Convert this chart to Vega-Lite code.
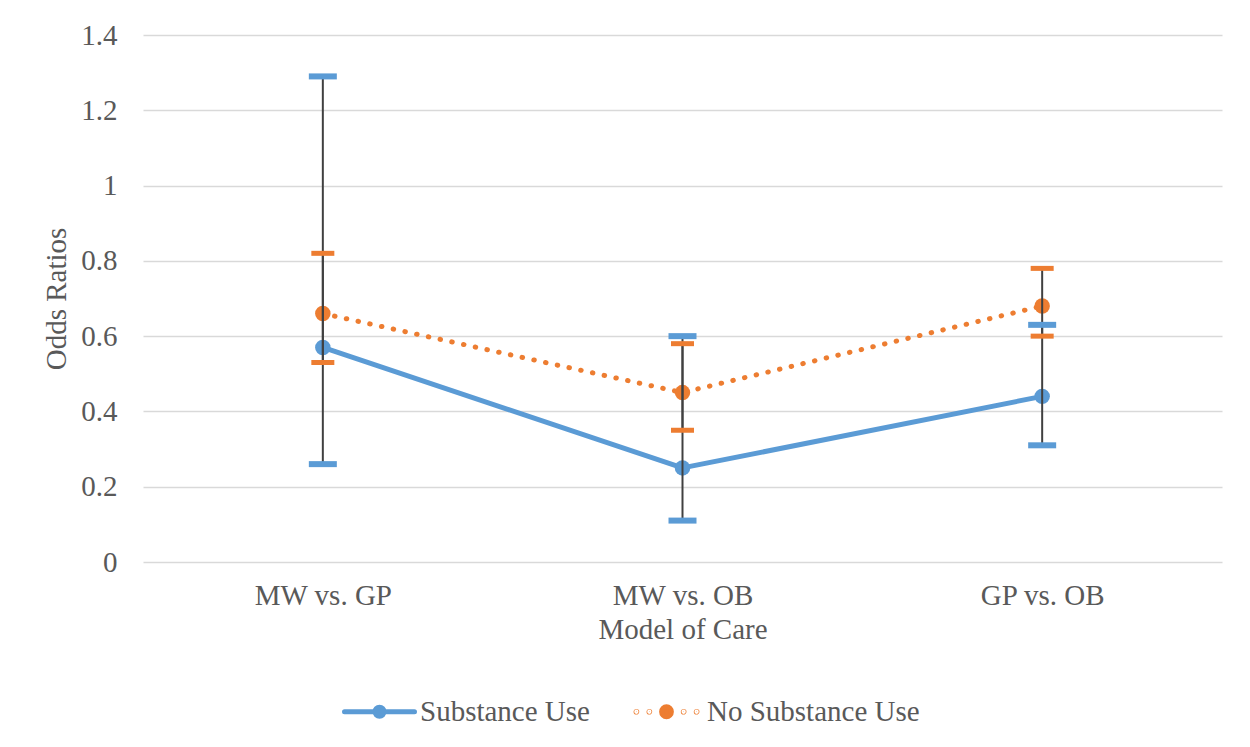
{
  "$schema": "https://vega.github.io/schema/vega-lite/v6.json",
  "width": 1079,
  "height": 527,
  "autosize": {"type": "none"},
  "padding": {"left": 143, "top": 35, "right": 28, "bottom": 185},
  "background": "white",
  "data": {
    "values": [
      {"cat": "MW vs. GP", "series": "Substance Use", "or": 0.57, "lo": 0.26, "hi": 1.29},
      {"cat": "MW vs. OB", "series": "Substance Use", "or": 0.25, "lo": 0.11, "hi": 0.60},
      {"cat": "GP vs. OB", "series": "Substance Use", "or": 0.44, "lo": 0.31, "hi": 0.63},
      {"cat": "MW vs. GP", "series": "No Substance Use", "or": 0.66, "lo": 0.53, "hi": 0.82},
      {"cat": "MW vs. OB", "series": "No Substance Use", "or": 0.45, "lo": 0.35, "hi": 0.58},
      {"cat": "GP vs. OB", "series": "No Substance Use", "or": 0.68, "lo": 0.60, "hi": 0.78}
    ]
  },
  "encoding": {
    "x": {
      "field": "cat", "type": "nominal",
      "sort": ["MW vs. GP", "MW vs. OB", "GP vs. OB"],
      "scale": {"type": "point", "padding": 0.5},
      "axis": {"title": "Model of Care", "labelAngle": 0, "domain": false, "ticks": false, "grid": false, "labelPadding": 19, "titlePadding": 5}
    }
  },
  "layer": [
    {
      "transform": [{"filter": "datum.series === 'Substance Use'"}],
      "mark": {"type": "line", "strokeWidth": 5, "strokeCap": "round", "strokeJoin": "round"},
      "encoding": {
        "y": {
          "field": "or", "type": "quantitative",
          "scale": {"domain": [0, 1.4], "nice": false, "zero": true},
          "axis": {"title": "Odds Ratios", "values": [0, 0.2, 0.4, 0.6, 0.8, 1, 1.2, 1.4], "format": ".1~f", "domain": false, "ticks": false, "grid": true, "labelPadding": 26, "titlePadding": 9}
        },
        "color": {
          "field": "series", "type": "nominal",
          "scale": {"domain": ["Substance Use", "No Substance Use"], "range": ["#5B9BD5", "#ED7D31"]},
          "legend": {"title": null, "encode": {"symbols": {"update": {
            "shape": {"signal": "datum.value === 'No Substance Use' ? 'M-0.87,0A0.01,0.01,0,1,1,-0.85,0A0.01,0.01,0,1,1,-0.87,0ZM-0.5,0A0.01,0.01,0,1,1,-0.48,0A0.01,0.01,0,1,1,-0.5,0ZM-0.14,0A0.14,0.14,0,1,1,0.14,0A0.14,0.14,0,1,1,-0.14,0ZM0.48,0A0.01,0.01,0,1,1,0.5,0A0.01,0.01,0,1,1,0.48,0ZM0.85,0A0.01,0.01,0,1,1,0.87,0A0.01,0.01,0,1,1,0.85,0Z' : 'M-1,0L1,0M-0.13,0A0.13,0.13,0,1,1,0.13,0A0.13,0.13,0,1,1,-0.13,0Z'"},
            "fill": {"signal": "datum.value === 'No Substance Use' ? '#ED7D31' : '#5B9BD5'"},
            "fillOpacity": {"value": 1},
            "strokeCap": {"value": "round"}
          }}}}
        }
      }
    },
    {
      "transform": [{"filter": "datum.series === 'No Substance Use'"}],
      "mark": {"type": "line", "strokeWidth": 5, "strokeCap": "round", "strokeJoin": "round", "strokeDash": [0.5, 11.5]},
      "encoding": {
        "y": {"field": "or", "type": "quantitative"},
        "color": {
          "field": "series", "type": "nominal",
          "legend": {"title": null, "encode": {"symbols": {"update": {
            "shape": {"signal": "datum.value === 'No Substance Use' ? 'M-0.87,0A0.01,0.01,0,1,1,-0.85,0A0.01,0.01,0,1,1,-0.87,0ZM-0.5,0A0.01,0.01,0,1,1,-0.48,0A0.01,0.01,0,1,1,-0.5,0ZM-0.14,0A0.14,0.14,0,1,1,0.14,0A0.14,0.14,0,1,1,-0.14,0ZM0.48,0A0.01,0.01,0,1,1,0.5,0A0.01,0.01,0,1,1,0.48,0ZM0.85,0A0.01,0.01,0,1,1,0.87,0A0.01,0.01,0,1,1,0.85,0Z' : 'M-1,0L1,0M-0.13,0A0.13,0.13,0,1,1,0.13,0A0.13,0.13,0,1,1,-0.13,0Z'"},
            "fill": {"signal": "datum.value === 'No Substance Use' ? '#ED7D31' : '#5B9BD5'"},
            "fillOpacity": {"value": 1},
            "strokeCap": {"value": "round"}
          }}}}
        }
      }
    },
    {
      "mark": {"type": "point", "filled": true, "opacity": 1, "size": 240},
      "encoding": {
        "y": {"field": "or", "type": "quantitative"},
        "color": {"field": "series", "type": "nominal", "legend": null}
      }
    },
    {
      "mark": {"type": "rule", "color": "#404040", "strokeWidth": 2},
      "encoding": {
        "y": {"field": "lo", "type": "quantitative"},
        "y2": {"field": "hi"}
      }
    },
    {
      "transform": [{"filter": "datum.series === 'Substance Use'"}],
      "mark": {"type": "tick", "color": "#5B9BD5", "size": 28, "thickness": 6, "opacity": 1},
      "encoding": {"y": {"field": "hi", "type": "quantitative"}}
    },
    {
      "transform": [{"filter": "datum.series === 'Substance Use'"}],
      "mark": {"type": "tick", "color": "#5B9BD5", "size": 28, "thickness": 6, "opacity": 1},
      "encoding": {"y": {"field": "lo", "type": "quantitative"}}
    },
    {
      "transform": [{"filter": "datum.series === 'No Substance Use'"}],
      "mark": {"type": "tick", "color": "#ED7D31", "size": 23, "thickness": 5, "opacity": 1},
      "encoding": {"y": {"field": "hi", "type": "quantitative"}}
    },
    {
      "transform": [{"filter": "datum.series === 'No Substance Use'"}],
      "mark": {"type": "tick", "color": "#ED7D31", "size": 23, "thickness": 5, "opacity": 1},
      "encoding": {"y": {"field": "lo", "type": "quantitative"}}
    }
  ],
  "config": {
    "font": "Liberation Serif",
    "view": {"stroke": null},
    "axis": {
      "labelFont": "Liberation Serif", "titleFont": "Liberation Serif",
      "labelFontSize": 29, "titleFontSize": 29, "titleFontWeight": "normal",
      "labelColor": "#595959", "titleColor": "#595959",
      "gridColor": "#D9D9D9", "gridWidth": 1.5
    },
    "legend": {
      "orient": "none", "legendX": 199, "legendY": 639,
      "direction": "horizontal",
      "labelFont": "Liberation Serif", "labelFontSize": 29, "labelColor": "#595959", "labelLimit": 0,
      "symbolType": "M-1,0L1,0M-0.13,0A0.13,0.13,0,1,1,0.13,0A0.13,0.13,0,1,1,-0.13,0Z",
      "symbolSize": 4900, "symbolStrokeWidth": 5,
      "labelOffset": 3, "columnPadding": 36, "padding": 0
    }
  }
}
